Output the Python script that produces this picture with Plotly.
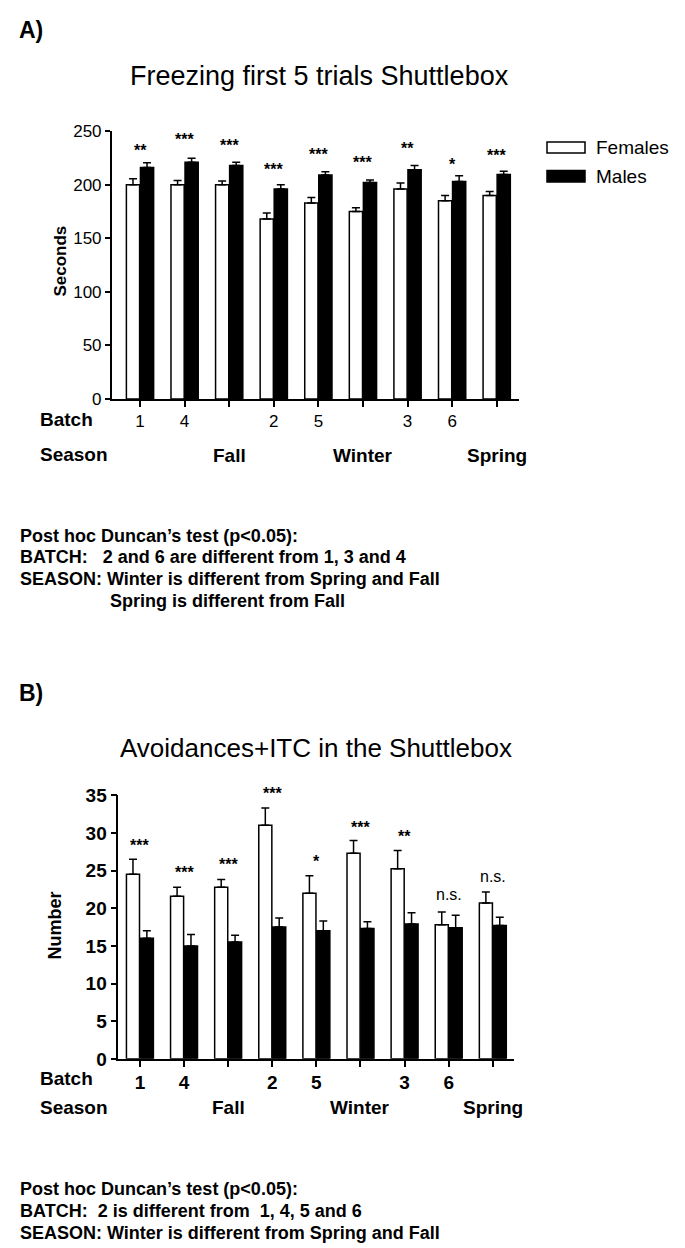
import plotly.graph_objects as go

W, H = 685, 1248

# ---------------- data ----------------
groups = ["Batch 1", "Batch 4", "Fall", "Batch 2", "Batch 5", "Winter", "Batch 3", "Batch 6", "Spring"]
batch_labels = ["1", "4", "", "2", "5", "", "3", "6", ""]
season_labels = ["Fall", "Winter", "Spring"]

freeze_females = [200, 200, 200, 168, 183, 175, 196, 185, 190]
freeze_females_sem = [5.5, 4.0, 3.5, 5.5, 5.0, 3.5, 5.5, 5.0, 3.7]
freeze_males = [216, 221, 218, 196, 209, 202, 214, 203, 209.5]
freeze_males_sem = [4.4, 3.8, 3.0, 4.0, 3.0, 2.3, 4.0, 5.3, 3.0]
freeze_sig = ["**", "***", "***", "***", "***", "***", "**", "*", "***"]
freeze_sig_y = [236, 246, 240, 218, 232, 224.5, 238, 223, 231]

avoid_females = [24.5, 21.6, 22.8, 31.0, 22.0, 27.3, 25.25, 17.8, 20.7]
avoid_females_sem = [2.0, 1.2, 1.0, 2.3, 2.3, 1.7, 2.4, 1.7, 1.45]
avoid_males = [16.0, 15.0, 15.5, 17.5, 17.0, 17.3, 17.9, 17.4, 17.7]
avoid_males_sem = [1.0, 1.5, 0.9, 1.2, 1.3, 0.9, 1.5, 1.65, 1.1]
avoid_sig = ["***", "***", "***", "***", "*", "***", "**", "n.s.", "n.s."]
avoid_sig_y = [28.9, 25.3, 26.4, 35.75, 26.7, 31.3, 30.0, 21.7, 24.1]

freeze_notes = [
    "Post hoc Duncan\u2019s test (p<0.05):",
    "BATCH:\u00a0\u00a0 2 and 6 are different from 1, 3 and 4",
    "SEASON: Winter is different from Spring and Fall",
    "Spring is different from Fall",
]
avoid_notes = [
    "Post hoc Duncan\u2019s test (p<0.05):",
    "BATCH:\u00a0 2 is different from \u00a01, 4, 5 and 6",
    "SEASON: Winter is different from Spring and Fall",
]

ARIAL = "Liberation Sans, Arial, sans-serif"

# vertical calibration of the captured page
V_OFF, V_SCALE = 10.7, 0.982


def px_x(x):
    return x / W


def px_y(y):
    return 1 - ((y - V_OFF) / V_SCALE) / H


fig = go.Figure()


def add_pair(fem, fem_sem, mal, mal_sem, xa, ya):
    fig.add_trace(go.Bar(
        x=groups, y=fem, name="Females", xaxis=xa, yaxis=ya,
        marker=dict(color="white", line=dict(color="black", width=1.5)),
        error_y=dict(type="data", symmetric=False, array=fem_sem,
                     arrayminus=[0] * len(fem), color="black", thickness=1.5, width=4),
        showlegend=False,
    ))
    fig.add_trace(go.Bar(
        x=groups, y=mal, name="Males", xaxis=xa, yaxis=ya,
        marker=dict(color="black", line=dict(color="black", width=1.5)),
        error_y=dict(type="data", symmetric=False, array=mal_sem,
                     arrayminus=[0] * len(mal), color="black", thickness=1.5, width=4),
        showlegend=False,
    ))


add_pair(freeze_females, freeze_females_sem, freeze_males, freeze_males_sem, "x", "y")
add_pair(avoid_females, avoid_females_sem, avoid_males, avoid_males_sem, "x2", "y2")

axis_common = dict(showline=True, linecolor="black", linewidth=1.5, ticks="outside",
                   tickcolor="black", tickwidth=1.5, showgrid=False, zeroline=False)

Y1_RANGE = [0, 250]
Y2_RANGE = [0, 35]

fig.update_layout(
    width=W, height=H,
    margin=dict(l=0, r=0, t=0, b=0),
    paper_bgcolor="white", plot_bgcolor="white",
    barmode="group", bargap=0.37, bargroupgap=0.06,
    showlegend=False,
    xaxis=dict(domain=[px_x(111.7), px_x(519)], anchor="y", range=[-0.635, 8.5],
               tickmode="array", tickvals=groups, ticktext=batch_labels, ticklen=6,
               tickfont=dict(family=ARIAL, size=17, color="black"), **axis_common),
    yaxis=dict(domain=[px_y(399.3), px_y(131.7)], anchor="x", range=Y1_RANGE,
               tickvals=[0, 50, 100, 150, 200, 250], ticklen=5,
               tickfont=dict(family=ARIAL, size=17, color="black"), **axis_common),
    xaxis2=dict(domain=[px_x(118.3), px_x(514)], anchor="y2", range=[-0.49, 8.48],
                tickmode="array", tickvals=groups, ticktext=batch_labels, ticklen=6,
                tickfont=dict(family=ARIAL, size=19, color="black", weight="bold"), **axis_common),
    yaxis2=dict(domain=[px_y(1058.3), px_y(795)], anchor="x2", range=Y2_RANGE,
                tickvals=[0, 5, 10, 15, 20, 25, 30, 35], ticklen=6,
                tickfont=dict(family=ARIAL, size=19, color="black", weight="bold"), **axis_common),
)

ann = []


def text(x, y, s, size, bold=False, xanchor="left", angle=0):
    ann.append(dict(x=px_x(x), y=px_y(y), xref="paper", yref="paper", text=s,
                    showarrow=False, xanchor=xanchor, yanchor="middle", textangle=angle,
                    font=dict(family=ARIAL, size=size, color="black",
                              weight="bold" if bold else "normal")))


# panel labels, titles
text(17, 31, "A)", 23, bold=True)
text(17, 693, "B)", 23, bold=True)
text(319, 77, "Freezing first 5 trials Shuttlebox", 27, xanchor="center")
text(315.5, 748, "Avoidances+ITC in the Shuttlebox", 26, xanchor="center")

# y-axis titles
text(61, 262, "Seconds", 17, bold=True, xanchor="center", angle=-90)
text(55, 925, "Number", 18, bold=True, xanchor="center", angle=-90)

# row labels
text(38, 420, "Batch", 19, bold=True)
text(38, 455, "Season", 19, bold=True)
text(38, 1078, "Batch", 19, bold=True)
text(38, 1107, "Season", 19, bold=True)

for s in season_labels:
    ann.append(dict(x=s, y=px_y(455.4), xref="x", yref="paper", text=s, showarrow=False,
                    xanchor="center", yanchor="middle",
                    font=dict(family=ARIAL, size=19, color="black", weight="bold")))
    ann.append(dict(x=s, y=px_y(1106.7), xref="x2", yref="paper", text=s, showarrow=False,
                    xanchor="center", yanchor="middle",
                    font=dict(family=ARIAL, size=19, color="black", weight="bold")))


def sig_marks(sig, sig_y, xref, yref, yrange, px_per_unit):
    for g, s, yv in zip(groups, sig, sig_y):
        is_ns = s == "n.s."
        shift = 1 if is_ns else -4
        yy = yv
        if yy > yrange[1]:
            shift += (yy - yrange[1]) * px_per_unit
            yy = yrange[1]
        ann.append(dict(x=g, y=yy, xref=xref, yref=yref, text=s, showarrow=False,
                        xanchor="center", yanchor="middle", yshift=shift,
                        font=dict(family=ARIAL, size=16, color="black",
                                  weight="normal" if is_ns else "bold")))


sig_marks(freeze_sig, freeze_sig_y, "x", "y", Y1_RANGE, (399.3 - 131.7) / 250)
sig_marks(avoid_sig, avoid_sig_y, "x2", "y2", Y2_RANGE, (1058.3 - 795) / 35)

note_y_a = [536, 557, 578.6, 600.7]
note_x_a = [18, 18, 18, 108]
for s, xx, yy in zip(freeze_notes, note_x_a, note_y_a):
    text(xx, yy, s, 18, bold=True)
note_y_b = [1188.6, 1210.7, 1232.5]
for s, yy in zip(avoid_notes, note_y_b):
    text(18, yy, s, 18, bold=True)

# legend (top panel)
text(594, 148, "Females", 19)
text(594, 176.7, "Males", 19)
shapes = [
    dict(type="rect", xref="paper", yref="paper", x0=px_x(547), x1=px_x(585),
         y0=px_y(153.5), y1=px_y(142.5), fillcolor="white", line=dict(color="black", width=1.5)),
    dict(type="rect", xref="paper", yref="paper", x0=px_x(547), x1=px_x(585),
         y0=px_y(182.5), y1=px_y(171), fillcolor="black", line=dict(color="black", width=1.5)),
]

fig.update_layout(annotations=ann, shapes=shapes)
fig.write_html("out.html", config={"displayModeBar": False},
               post_script="document.body.style.margin='0px';")
